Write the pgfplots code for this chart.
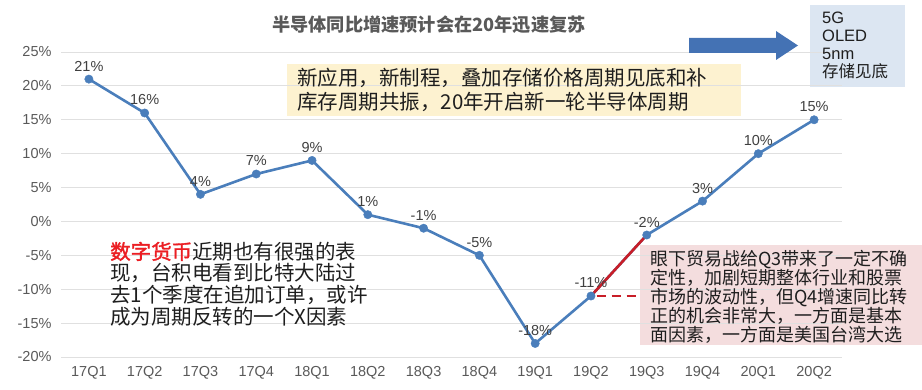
\documentclass[border=0pt]{standalone}
\usepackage{pgfplots}
\pgfplotsset{compat=1.18}
\usepackage{fontspec}
\setmainfont{Liberation Sans}
\newfontfamily\cjk{Noto Sans CJK SC}
\newfontfamily\cjkb[FakeBold=1.6]{Noto Sans CJK SC}
\definecolor{lineblue}{RGB}{74,126,187}
\definecolor{tickgray}{RGB}{89,89,89}
\definecolor{labgray}{RGB}{64,64,64}
\definecolor{yellowbox}{RGB}{253,242,208}
\definecolor{pinkbox}{RGB}{244,221,222}
\definecolor{bluebox}{RGB}{220,230,242}
\definecolor{arrowblue}{RGB}{68,114,180}
\definecolor{myred}{RGB}{200,30,40}
\definecolor{brightred}{RGB}{235,30,35}
\definecolor{txt}{RGB}{30,30,30}
\begin{document}
\begin{tikzpicture}[x=1pt,y=1pt]
\useasboundingbox (0,0) rectangle (922,389);
% boxes behind the chart
\fill[yellowbox] (287,273) rectangle (741,325);
\fill[pinkbox] (640,44) rectangle (922,144);
\fill[bluebox] (810,302) rectangle (905,384);
\begin{axis}[
  at={(61pt,32pt)}, anchor=south west,
  scale only axis, width=781pt, height=305pt,
  xmin=-0.5, xmax=13.5, ymin=-20, ymax=25,
  ytick={-20,-15,-10,-5,0,5,10,15,20,25},
  yticklabels={-20\%,-15\%,-10\%,-5\%,0\%,5\%,10\%,15\%,20\%,25\%},
  xtick={0,1,2,3,4,5,6,7,8,9,10,11,12,13},
  xticklabels={17Q1,17Q2,17Q3,17Q4,18Q1,18Q2,18Q3,18Q4,19Q1,19Q2,19Q3,19Q4,20Q1,20Q2},
  ymajorgrids, grid style={black!12, line width=0.9pt},
  axis line style={draw=none}, tick style={draw=none},
  ticklabel style={font=\fontsize{14.5}{16}\selectfont, text=tickgray},
  yticklabel style={xshift=-6pt},
  xticklabel style={yshift=-6pt},
  clip=false,
]
\addplot[lineblue, line width=2.6pt, mark=none] coordinates {
(0,21) (1,16) (2,4) (3,7) (4,9) (5,1) (6,-1) (7,-5) (8,-18) (9,-11) (10,-2) (11,3) (12,10) (13,15)};
\addplot[myred, line width=2.6pt, mark=none] coordinates {(9,-11) (10,-2)};
\addplot[myred, line width=1.8pt, dashed, dash pattern=on 9pt off 6pt, mark=none] coordinates {(9.1,-11) (9.84,-11)};
\addplot[only marks, mark=*, mark size=4.2pt, color=lineblue,
  point meta=explicit symbolic,
  nodes near coords, nodes near coords align={center},
  every node near coord/.append style={font=\fontsize{14.5}{16}\selectfont, text=labgray, yshift=13pt, anchor=center}]
 coordinates {
(0,21)[21\%] (1,16)[16\%] (2,4)[4\%] (3,7)[7\%] (4,9)[9\%] (5,1)[1\%] (6,-1)[-1\%] (7,-5)[-5\%] (8,-18)[-18\%] (9,-11)[-11\%] (10,-2)[-2\%] (11,3)[3\%] (12,10)[10\%] (13,15)[15\%]};
\end{axis}
% title
\node[font=\cjk\bfseries\fontsize{18.2}{20}\selectfont, text=tickgray] at (429,364) {半导体同比增速预计会在20年迅速复苏};
% arrow
\fill[arrowblue] (689,351) -- (776,351) -- (776,358) -- (798,343.5) -- (776,329) -- (776,336) -- (689,336) -- cycle;
% blue box text
\node[anchor=west, inner sep=0pt, align=left, font=\fontsize{16.5}{18}\selectfont, text=txt] at (822,344) {5G\\OLED\\5nm\\{\cjk 存储见底}};
% yellow box text
\node[anchor=west, inner sep=0pt, align=left, font=\cjk\fontsize{20.5}{23.5}\selectfont, text=txt] at (297,299) {新应用，新制程，叠加存储价格周期见底和补\\库存周期共振，20年开启新一轮半导体周期};
% left text
\node[anchor=west, inner sep=0pt, align=left, font=\cjk\fontsize{20.5}{21.7}\selectfont, text=txt] at (110,105) {{\cjkb\color{brightred}数字货币}近期也有很强的表\\现，台积电看到比特大陆过\\去1个季度在追加订单，或许\\成为周期反转的一个X因素};
% pink box text
\node[anchor=west, inner sep=0pt, align=left, font=\cjk\fontsize{18}{18.4}\selectfont, text=txt] at (650,92.5) {眼下贸易战给Q3带来了一定不确\\定性，加剧短期整体行业和股票\\市场的波动性，但Q4增速同比转\\正的机会非常大，一方面是基本\\面因素，一方面是美国台湾大选};
\end{tikzpicture}
\end{document}
